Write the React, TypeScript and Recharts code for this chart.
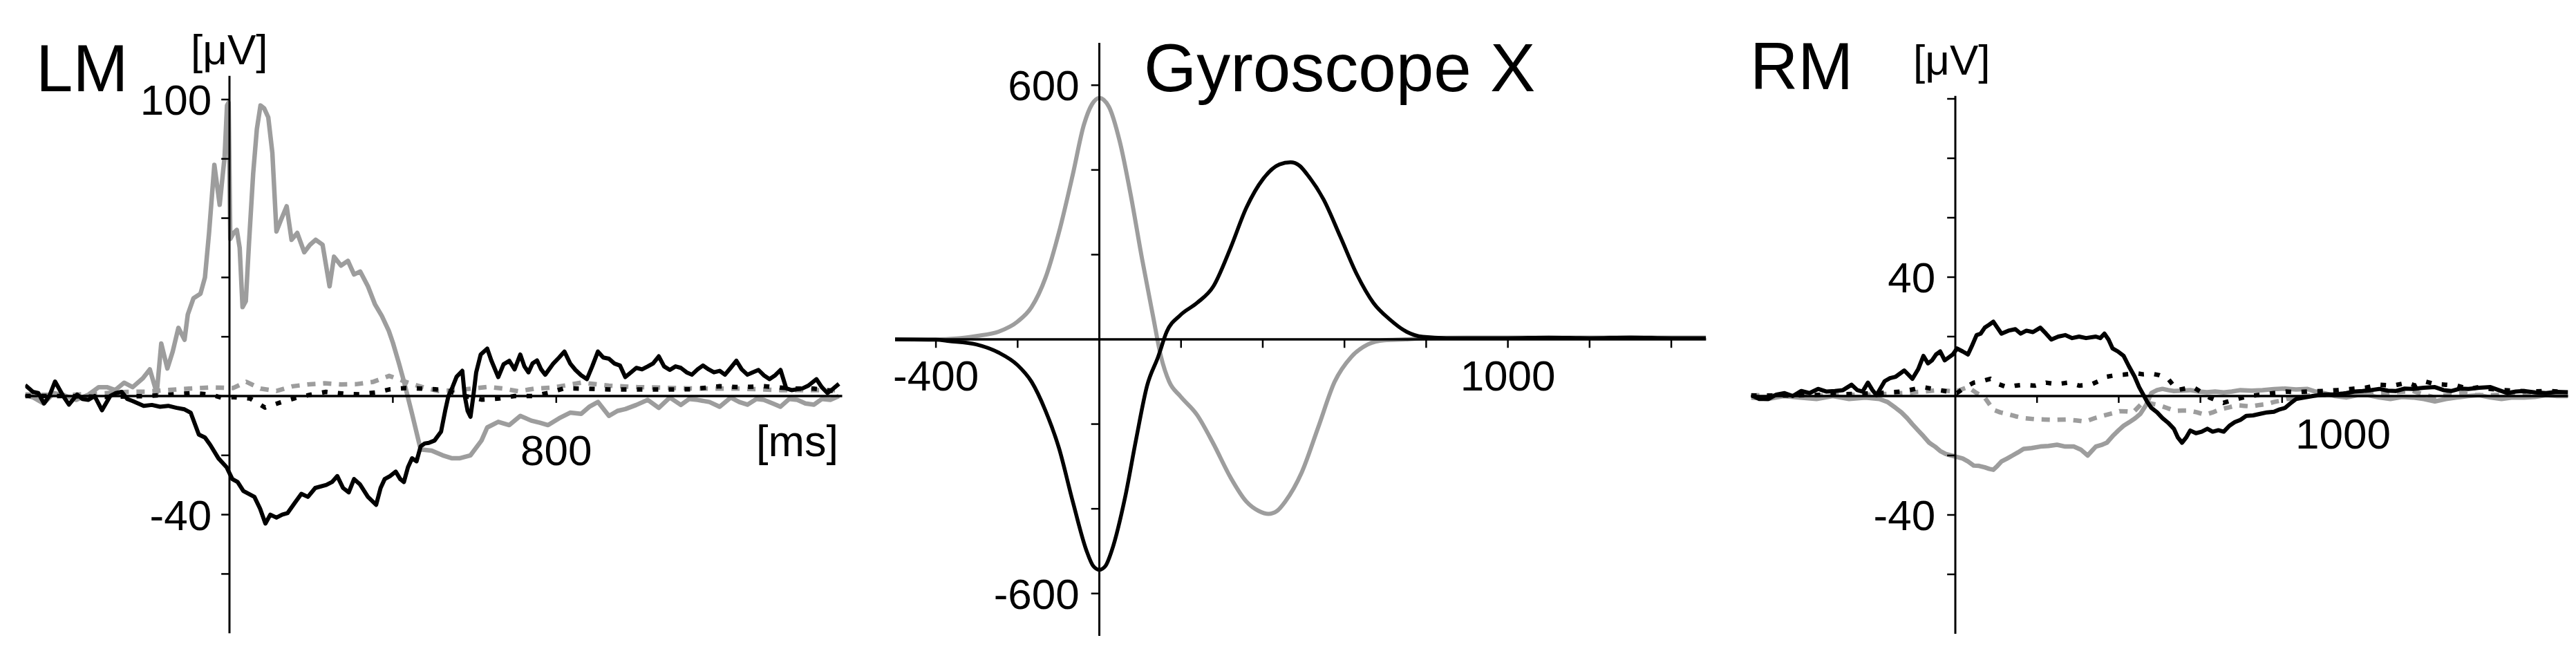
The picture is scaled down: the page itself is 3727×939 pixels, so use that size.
import { LineChart, Line, XAxis, YAxis, ReferenceLine } from 'recharts';

type Pt = [number, number];

const FONT = '"Liberation Sans", Arial, Helvetica, sans-serif';
const GREY = '#9d9d9d';
const H = 939;

// ---------- LM panel (left muscle, µV over ms) ----------
const lmGreySolid: Pt[] = [
  [-500, 0.5], [-480, -0.5], [-455, -2.5], [-430, 1], [-400, 0], [-375, -1.3], [-345, 0.5], [-320, 3],
  [-300, 3], [-280, 2], [-258, 4.5], [-237, 3], [-212, 6], [-195, 9], [-178, 1], [-167, 17.7],
  [-152, 9.3], [-139, 15], [-125, 23], [-110, 19], [-102, 27.5], [-88, 33], [-71, 34.5], [-60, 40],
  [-50, 55], [-37, 78], [-24, 64.5], [-12, 80.6], [-6, 98], [-2, 99], [2, 53], [10, 55], [18, 56],
  [25, 50], [32, 30], [40, 32], [48, 52], [58, 75], [67, 90], [76, 98], [85, 97], [95, 94], [105, 82],
  [115, 55.5], [127, 59.7], [140, 64], [152, 52.7], [166, 55], [183, 48.5], [197, 51], [211, 52.7],
  [228, 51], [245, 37], [256, 47], [273, 44], [290, 45.6], [305, 41], [320, 42], [339, 37], [356, 31],
  [373, 27], [390, 22], [400, 18], [415, 11], [427, 5], [447, -6], [468, -18], [495, -18.4], [522, -20],
  [545, -21], [563, -21], [590, -20], [617, -15], [631, -10.6], [658, -8.7], [685, -9.8], [712, -6.7],
  [739, -8.3], [760, -9], [780, -9.8], [807, -7.5], [834, -5.6], [861, -6], [882, -3.5], [902, -2],
  [929, -6.7], [950, -5], [969, -4.4], [996, -3], [1024, -1.3], [1051, -4], [1078, -0.5], [1105, -3],
  [1125, -1], [1146, -1.3], [1175, -2], [1200, -3.6], [1227, -0.5], [1248, -2], [1268, -2.9], [1290, -1],
  [1308, -1.3], [1330, -2.5], [1349, -3.6], [1370, -1], [1390, -1.3], [1410, -2.5], [1431, -2.9],
  [1450, -1], [1471, -1.3], [1492, 0],
];
const lmBlackSolid: Pt[] = [
  [-500, 3.7], [-481, 1.4], [-468, 1], [-454, -2.5], [-441, 0], [-427, 4.9], [-407, 0], [-393, -2.9],
  [-373, 0.5], [-360, -1], [-346, -1.3], [-330, 0], [-312, -4.8], [-292, 0], [-278, 1], [-264, 1.4],
  [-250, -1], [-237, -1.7], [-210, -3.3], [-190, -3], [-170, -3.6], [-150, -3.3], [-129, -4], [-110, -4.5],
  [-95, -5.6], [-75, -13], [-60, -14], [-47, -16.5], [-27, -21], [-7, -24], [7, -28], [20, -29], [34, -32],
  [61, -34], [75, -38], [88, -43], [100, -40], [115, -41], [129, -40], [142, -39.5], [160, -36], [176, -33],
  [192, -34], [210, -31], [237, -30], [251, -29], [264, -27], [278, -31], [292, -32.5], [305, -28],
  [319, -29.7], [339, -34], [359, -36.7], [370, -31], [380, -28], [393, -27], [407, -25.5], [418, -28],
  [427, -29], [437, -24], [447, -21], [458, -22], [468, -17], [478, -16], [488, -15.8], [502, -15],
  [518, -12], [528, -5], [536, 0], [546, 3], [556, 6.5], [570, 8.5], [576, 0], [583, -5], [590, -7],
  [597, 0], [604, 8], [615, 14], [631, 16], [641, 12], [658, 6.4], [671, 10.7],
  [685, 11.9], [698, 9], [712, 14], [722, 10], [732, 8], [742, 11], [753, 12], [763, 9], [773, 7.2],
  [793, 11], [807, 13], [820, 15], [834, 11], [847, 8.8], [861, 7], [875, 5.7], [888, 10], [902, 15],
  [915, 13], [929, 12.6], [942, 11], [956, 10.3], [969, 6.4], [983, 8], [996, 9.5], [1010, 9], [1024, 10],
  [1037, 11], [1051, 13.4], [1064, 10], [1078, 8.8], [1092, 10], [1105, 9.5], [1119, 8], [1132, 7.2],
  [1146, 9], [1159, 10.3], [1173, 9], [1186, 8], [1200, 8.5], [1213, 7.2], [1227, 9.5], [1241, 11.9],
  [1254, 9], [1268, 7.2], [1281, 8], [1295, 8.8], [1308, 7], [1322, 5.7], [1336, 7], [1349, 8.8],
  [1363, 2.6], [1376, 2], [1390, 2.3], [1403, 2.6], [1417, 3.5], [1437, 5.7], [1450, 3], [1464, 1],
  [1478, 2.5], [1492, 4.1],
];
const lmGreyDashed: Pt[] = [
  [-500, 0.5], [-400, 0.3], [-300, 1], [-250, 1.4], [-200, 1.5], [-156, 2], [-100, 2.5], [-47, 2.9],
  [9, 2.7], [41, 4.8], [76, 2.5], [115, 1.7], [155, 3.3], [191, 3.9], [233, 4.3], [273, 3.9], [310, 4],
  [352, 4.8], [391, 6.8], [431, 4.8], [470, 3.1], [510, 1.7], [552, 1.9], [592, 2.5], [634, 3.1],
  [671, 2.5], [707, 1.6], [747, 2.5], [793, 2.9], [861, 4.5], [929, 3.5], [1000, 3], [1064, 2.8],
  [1150, 2.5], [1250, 2.5], [1350, 2], [1450, 2], [1500, 2],
];
const lmBlackDotted: Pt[] = [
  [-500, 0], [-400, 0], [-300, -0.3], [-200, 0], [-88, 1], [-47, 0.5], [-20, -0.5], [11, -0.4],
  [50, -0.8], [87, -3.9], [124, -2.2], [163, -0.6], [197, 0.4], [236, 1.4], [279, 0.8], [318, 0.6],
  [358, 1.2], [394, 2.3], [431, 2.7], [470, 2.5], [504, 2.3], [538, 1.6], [577, 0], [617, -1.2],
  [656, -0.9], [698, 0], [741, 0], [780, 1], [820, 2.6], [870, 2.5], [929, 2.2], [1000, 2.2],
  [1064, 2.2], [1130, 2.3], [1200, 3.3], [1250, 3], [1308, 3.3], [1380, 2.5], [1430, 2.5], [1471, 1.8],
  [1500, 1.5],
];
const lmYTicks = [-60, -40, -20, 20, 40, 60, 80, 100];
const lmYLabels = [100, -40];
const lmXTicks = [400, 800];
const lmXLabels = [800];

// ---------- Gyroscope X panel ----------
const gyroGrey: Pt[] = [
  [-500, 0], [-400, 0], [-350, 2], [-301, 8], [-247, 18], [-200, 42], [-166, 76], [-132, 145], [-99, 252],
  [-65, 389], [-38, 506], [-18, 555], [0, 570], [23, 550], [50, 467], [77, 340], [104, 193], [131, 57],
  [151, -41], [171, -100], [198, -134], [239, -178], [279, -246], [320, -324], [360, -383], [390, -405],
  [414, -412], [435, -405], [455, -383], [495, -315], [536, -207], [576, -100], [617, -41], [657, -12],
  [698, -2], [750, 0], [800, 3], [900, 4], [1000, 4], [1100, 4], [1200, 4], [1300, 5], [1400, 4], [1485, 4],
];
const gyroBlack: Pt[] = [
  [-500, 0], [-400, -1], [-368, -4], [-301, -12], [-247, -31], [-200, -61], [-166, -100], [-132, -168],
  [-99, -256], [-65, -383], [-31, -500], [-15, -535], [0, -544], [15, -535], [30, -500], [63, -373],
  [90, -236], [117, -109], [144, -41], [165, 18], [198, 57], [239, 86], [279, 125], [320, 213], [360, 311],
  [401, 379], [441, 413], [468, 418], [490, 410], [509, 389], [549, 330], [590, 242], [630, 154], [671, 86],
  [711, 47], [752, 18], [792, 6], [850, 3], [1000, 3], [1100, 4], [1200, 3], [1300, 4], [1400, 3], [1485, 3],
];
const gyroYTicks = [-600, -400, -200, 200, 400, 600];
const gyroYLabels = [600, -600];
const gyroXTicks = [-400, -200, 200, 400, 600, 800, 1000, 1200, 1400];
const gyroXLabels = [-400, 1000];

// ---------- RM panel (right muscle) ----------
const rmBlackSolid: Pt[] = [
  [-500, 0.3], [-480, -1], [-458, -1], [-438, 0.5], [-418, 1], [-398, 0], [-377, 1.7], [-357, 1],
  [-336, 2.4], [-315, 1.5], [-295, 1.7], [-275, 2], [-254, 3.8], [-240, 2], [-227, 1.5], [-214, 4.5],
  [-203, 2], [-193, 0.3], [-173, 5], [-160, 6], [-146, 6.5], [-125, 8.6], [-105, 5.8], [-91, 9],
  [-78, 13.5], [-67, 11], [-57, 12], [-47, 14], [-37, 15], [-26, 12], [-16, 13], [-6, 14], [4, 16],
  [18, 15], [31, 14], [41, 17], [52, 20.5], [62, 21], [72, 23], [83, 24], [93, 25], [103, 23], [113, 21],
  [130, 22], [147, 22.5], [160, 21], [174, 22], [190, 21.5], [208, 23], [222, 21], [235, 19], [252, 20],
  [269, 20.5], [286, 19.5], [303, 20], [320, 19.5], [344, 20], [355, 19.5], [365, 21], [375, 19],
  [385, 16], [398, 15], [412, 13.5], [425, 10], [439, 6.5], [450, 3], [462, 0], [470, -2], [480, -4],
  [494, -5.5], [507, -7.4], [521, -9], [535, -11], [545, -14], [555, -15.7], [565, -14], [575, -11.6],
  [589, -12.5], [603, -12], [617, -11], [630, -12], [644, -11.5], [657, -12], [671, -10], [684, -8.8],
  [698, -8], [712, -6.7], [729, -6.5], [746, -6], [763, -5.5], [780, -5.3], [794, -4.5], [807, -4],
  [820, -2.5], [834, -1], [855, -0.5], [875, 0], [902, 0.5], [930, 0.5], [957, 1], [977, 1.5], [997, 1.7],
  [1018, 2], [1038, 2.4], [1059, 1.8], [1079, 1.7], [1100, 2.5], [1120, 2.4], [1147, 2.8], [1174, 3],
  [1195, 2], [1215, 1.7], [1236, 2.5], [1256, 2.4], [1283, 2.8], [1310, 3], [1330, 2], [1351, 1],
  [1372, 1.5], [1392, 1.7], [1419, 1.2], [1446, 1], [1473, 1.4], [1500, 1.3],
];
const rmBlackDotted: Pt[] = [
  [-500, 0.2], [-400, 0.2], [-300, 0.5], [-186, 1], [-130, 1.5], [-78, 3], [-40, 2], [4, 1], [25, 3],
  [45, 4.5], [65, 5], [86, 5.8], [106, 4], [126, 3], [147, 3.5], [167, 3.8], [195, 3.5], [222, 4.5],
  [249, 4], [276, 4.5], [303, 3.5], [331, 3.8], [351, 5], [371, 6.5], [392, 7], [412, 7.2], [441, 7.7],
  [460, 7.3], [481, 7.5], [500, 7], [521, 5.8], [543, 2], [562, 2.5], [582, 3], [600, 1.5], [622, -0.5],
  [640, -1.5], [656, -2.3], [676, -1.5], [696, -0.8], [720, 0], [750, 0.5], [780, 1], [810, 1.5],
  [840, 1.3], [870, 1.6], [902, 1.7], [936, 2], [970, 2.4], [1004, 2.8], [1038, 3.8], [1072, 3.5],
  [1106, 4.5], [1126, 3.5], [1147, 5], [1174, 4], [1201, 3.8], [1228, 3.5], [1256, 2.4], [1283, 3],
  [1310, 2.4], [1344, 2], [1378, 1.7], [1412, 1.5], [1446, 1.7], [1480, 1.5], [1500, 1.4],
];
const rmGreySolid: Pt[] = [
  [-500, -0.5], [-460, -1], [-420, 0], [-380, -0.5], [-340, -1], [-300, 0], [-260, -1], [-220, -0.5],
  [-186, -1], [-166, -2], [-146, -4], [-132, -5.5], [-118, -7.4], [-105, -9.5], [-91, -11.6], [-78, -13.5],
  [-64, -15.7], [-50, -17], [-37, -18.5], [-23, -19.5], [-10, -20], [4, -20.5], [18, -21], [31, -22],
  [45, -23.4], [58, -23.5], [72, -24], [83, -24.5], [93, -24.8], [103, -23.5], [113, -22], [127, -21],
  [140, -20], [153, -19], [167, -17.8], [187, -17.5], [208, -17], [228, -16.8], [249, -16.4], [269, -17],
  [290, -17], [307, -18], [324, -20], [334, -18.5], [344, -17], [357, -16.5], [371, -15.7], [385, -13.5],
  [399, -11.6], [412, -10], [426, -8.8], [440, -7.5], [453, -6], [467, -3], [480, 1], [494, 2], [507, 2.4],
  [521, 2], [535, 1.7], [555, 1.8], [575, 2], [596, 1.5], [616, 1.3], [636, 1.5], [657, 1.2], [677, 1.5],
  [698, 2], [725, 1.8], [752, 2], [780, 2.3], [807, 2.5], [834, 2.2], [861, 2.4], [882, 1.5], [902, 1],
  [930, 0], [957, -0.5], [984, 0.3], [1011, 0.3], [1038, -0.5], [1065, -1], [1093, -0.3], [1120, -0.5],
  [1147, -1], [1174, -1.8], [1201, -1], [1228, -0.5], [1256, 0], [1283, 0.3], [1310, -0.5], [1337, -1],
  [1364, -0.5], [1392, -0.5], [1419, -0.3], [1446, 0.3], [1473, 0], [1500, 0],
];
const rmGreyDashed: Pt[] = [
  [-500, 0.3], [-400, 0], [-300, 0.3], [-200, 0.5], [-130, 1], [-78, 1.5], [-40, 2], [0, 1.5], [31, 3],
  [52, 1], [72, -0.5], [93, -4.6], [110, -5.5], [126, -6], [147, -6.8], [167, -7.4], [195, -7.8], [218, -7.9],
  [245, -8], [272, -7.9], [295, -8.2], [318, -8.6], [340, -7.5], [362, -6.6], [385, -5.8], [402, -5.1],
  [420, -5.2], [436, -5.4], [458, -2.3], [478, -2.5], [497, -3], [518, -4], [538, -5], [555, -4.9],
  [572, -4.9], [592, -5.5], [611, -6.3], [630, -5.5], [650, -4.4], [670, -3.8], [690, -3.1], [707, -3.3],
  [724, -3.5], [745, -3], [763, -2.7], [780, -2], [797, -1.5], [811, -1], [825, -0.8], [848, -0.3],
  [875, 0.5], [902, 0.3], [936, 0.7], [970, 1], [1004, 1], [1038, 1], [1079, 1.3], [1120, 1.7],
  [1147, 0.5], [1174, -0.5], [1208, 0.5], [1242, 1], [1276, 0.3], [1310, 0.3], [1344, 0.5], [1378, 0.3],
  [1412, 0.3], [1446, 0.3], [1480, 0.3], [1500, 0.3],
];
const rmYTicks = [-60, -40, -20, 20, 40, 60, 80, 100];
const rmYLabels = [40, -40];
const rmXTicks = [200, 400, 600, 800];
const rmXLabels = [1000];

const toPts = (s: Pt[]) => s.map(([t, v]) => ({ t, v }));

type Series = { pts: Pt[]; color: string; width: number; dash?: string; curve: 'linear' | 'monotone' };

const solidGrey = (pts: Pt[]): Series => ({ pts, color: GREY, width: 6.5, curve: 'linear' });
const solidBlack = (pts: Pt[]): Series => ({ pts, color: '#000', width: 6, curve: 'linear' });
const dashedGrey = (pts: Pt[]): Series => ({ pts, color: GREY, width: 6.5, dash: '12 11', curve: 'linear' });
const dottedBlack = (pts: Pt[]): Series => ({ pts, color: '#000', width: 6.5, dash: '8 15', curve: 'linear' });

type PanelCfg = {
  left: number;
  width: number;
  margin: { top: number; right: number; bottom: number; left: number };
  xDomain: [number, number];
  yDomain: [number, number];
  series: Series[];
  yTicks: number[];
  yLabels: number[];
  xTicks: number[];
  xLabels: number[];
  tickMs: number; // tick length along x (ms)
  tickY: number; // tick length along y (data units)
  yLabelOffset: number;
  xLabelOffset: number;
  xLabelDx?: number;
};

const tickFont = { fill: '#000', fontSize: 62, fontFamily: FONT };

function Panel({ cfg }: { cfg: PanelCfg }) {
  const xTickVals = Array.from(new Set([...cfg.xTicks, ...cfg.xLabels]));
  return (
    <div style={{ position: 'absolute', left: cfg.left, top: 0 }}>
      <LineChart width={cfg.width} height={H} margin={cfg.margin}>
        <XAxis type="number" dataKey="t" domain={cfg.xDomain} hide allowDataOverflow />
        <YAxis type="number" domain={cfg.yDomain} hide allowDataOverflow />

        {cfg.series.map((s, i) => (
          <Line
            key={i}
            data={toPts(s.pts)}
            dataKey="v"
            type={s.curve}
            stroke={s.color}
            strokeWidth={s.width}
            strokeDasharray={s.dash}
            strokeLinejoin="round"
            dot={false}
            activeDot={false}
            isAnimationActive={false}
          />
        ))}

        {/* crosshair axes through the origin */}
        <ReferenceLine x={0} stroke="#000" strokeWidth={3} />
        <ReferenceLine y={0} stroke="#000" strokeWidth={3.5} />

        {cfg.yTicks.map((v) => (
          <ReferenceLine
            key={'y' + v}
            segment={[{ x: -cfg.tickMs, y: v }, { x: 0, y: v }]}
            stroke="#000"
            strokeWidth={2.5}
            label={cfg.yLabels.includes(v) ? { value: String(v), position: 'left', offset: cfg.yLabelOffset, ...tickFont } : undefined}
          />
        ))}
        {xTickVals.map((v) => (
          <ReferenceLine
            key={'x' + v}
            segment={[{ x: v, y: 0 }, { x: v, y: -cfg.tickY }]}
            stroke={cfg.xTicks.includes(v) ? '#000' : 'none'}
            strokeWidth={2.5}
            label={cfg.xLabels.includes(v) ? { value: String(v), position: 'bottom', offset: cfg.xLabelOffset, dx: cfg.xLabelDx ?? 0, ...tickFont } : undefined}
          />
        ))}
      </LineChart>
    </div>
  );
}

const lmCfg: PanelCfg = {
  left: 0,
  width: 1240,
  margin: { top: 109.7, right: 21.5, bottom: 22.8, left: 36.5 },
  xDomain: [-500, 1500],
  yDomain: [-80, 108],
  series: [solidGrey(lmGreySolid), dashedGrey(lmGreyDashed), dottedBlack(lmBlackDotted), solidBlack(lmBlackSolid)],
  yTicks: lmYTicks,
  yLabels: lmYLabels,
  xTicks: lmXTicks,
  xLabels: lmXLabels,
  tickMs: 20,
  tickY: 2.3,
  yLabelOffset: 14,
  xLabelOffset: 46,
};

const gyroCfg: PanelCfg = {
  left: 1260,
  width: 1240,
  margin: { top: 62, right: 31.7, bottom: 19, left: 35 },
  xDomain: [-500, 1485],
  yDomain: [-700, 700],
  series: [
    { pts: gyroGrey, color: GREY, width: 6, curve: 'monotone' },
    { pts: gyroBlack, color: '#000', width: 5.5, curve: 'monotone' },
  ],
  yTicks: gyroYTicks,
  yLabels: gyroYLabels,
  xTicks: gyroXTicks,
  xLabels: gyroXLabels,
  tickMs: 20,
  tickY: 20,
  yLabelOffset: 17,
  xLabelOffset: 18,
};

const rmCfg: PanelCfg = {
  left: 2500,
  width: 1227,
  margin: { top: 138.7, right: 11.5, bottom: 22, left: 33.5 },
  xDomain: [-500, 1500],
  yDomain: [-80, 101],
  series: [solidGrey(rmGreySolid), dashedGrey(rmGreyDashed), dottedBlack(rmBlackDotted), solidBlack(rmBlackSolid)],
  yTicks: rmYTicks,
  yLabels: rmYLabels,
  xTicks: rmXTicks,
  xLabels: rmXLabels,
  tickMs: 20,
  tickY: 2.3,
  yLabelOffset: 17,
  xLabelOffset: 22,
  xLabelDx: -30,
};

export default function App() {
  return (
    <div style={{ position: 'absolute', left: 0, top: 0, width: 3727, height: H, background: '#fff', overflow: 'hidden' }}>
      <Panel cfg={lmCfg} />
      <Panel cfg={gyroCfg} />
      <Panel cfg={rmCfg} />

      {/* panel titles and units */}
      <svg width={3727} height={H} style={{ position: 'absolute', left: 0, top: 0, pointerEvents: 'none' }} fontFamily={FONT} fill="#000">
        <text x={52} y={132} fontSize={96}>LM</text>
        <text x={276} y={93} fontSize={62}>[μV]</text>
        <text x={1094} y={660} fontSize={63}>[ms]</text>
        <text x={1655} y={132} fontSize={98}>Gyroscope X</text>
        <text x={2532} y={129} fontSize={96}>RM</text>
        <text x={2768} y={108} fontSize={62}>[μV]</text>
      </svg>
    </div>
  );
}
